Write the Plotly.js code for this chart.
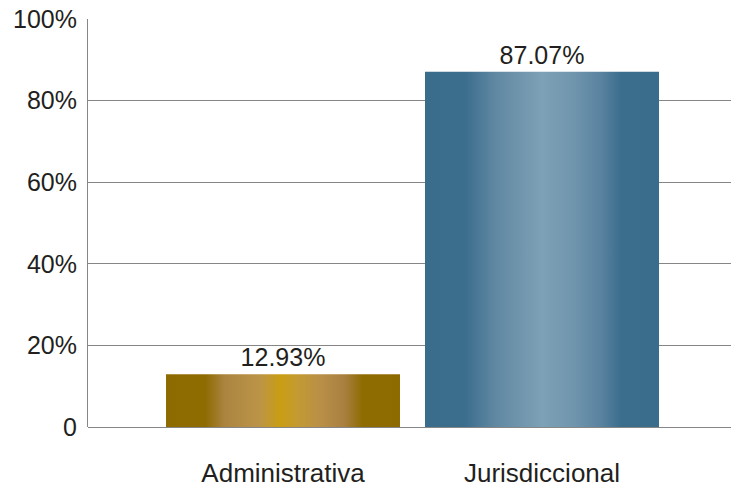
<!DOCTYPE html>
<html>
<head>
<meta charset="utf-8">
<script src="https://cdn.plot.ly/plotly-3.0.1.min.js"></script>
<style>
  html, body { margin: 0; padding: 0; background: #fff; }
  #chart { width: 731px; height: 489px; }
</style>
</head>
<body>
<div id="chart"></div>
<script>
// Data
const categories = ["Administrativa", "Jurisdiccional"];
const shares = [12.93, 87.07];
const tickValues = [0, 20, 40, 60, 80, 100];
const tickLabels = ["0", "20%", "40%", "60%", "80%", "100%"];

// Gradient styles per bar (style only)
const gradients = [
  [[0, "#8E6B00"], [0.17, "#8F6C02"], [0.25, "#AB8440"], [0.4, "#BC9448"], [0.49, "#C99E12"], [0.56, "#C49A32"], [0.66, "#B98F48"], [0.76, "#A98040"], [0.84, "#8F6C02"], [1, "#8E6B00"]],
  [[0, "#3A6C8C"], [0.17, "#3B6D8D"], [0.3, "#6088A2"], [0.5, "#7DA1B6"], [0.64, "#6F95AD"], [0.75, "#5A83A0"], [0.84, "#3B6D8D"], [1, "#3A6C8C"]]
];

const textColor = "#231F20";
const gridColor = "#868686";
const fontFamily = "Liberation Sans, Arial, sans-serif";

const trace = {
  type: "bar",
  x: categories,
  y: shares,
  width: 0.9035,
  marker: { color: ["#A07D20", "#5A84A0"], line: { width: 0 } },
  texttemplate: "%{y:.2f}%",
  textposition: "outside",
  textfont: { family: fontFamily, size: 25, color: textColor },
  cliponaxis: false,
  hoverinfo: "none"
};

const layout = {
  width: 731,
  height: 489,
  margin: { l: 88, r: 0, t: 19, b: 62, pad: 0 },
  paper_bgcolor: "#ffffff",
  plot_bgcolor: "#ffffff",
  showlegend: false,
  font: { family: fontFamily, color: textColor },
  xaxis: {
    type: "category",
    range: [-0.7529, 1.7297],
    showgrid: false,
    zeroline: false,
    showline: false,
    ticks: "",
    tickfont: { family: fontFamily, size: 26, color: textColor },
    ticklabelstandoff: 28
  },
  yaxis: {
    range: [0, 100],
    tickvals: tickValues,
    ticktext: tickLabels,
    showgrid: true,
    gridcolor: gridColor,
    gridwidth: 1,
    zeroline: true,
    zerolinecolor: gridColor,
    zerolinewidth: 1,
    showline: true,
    linecolor: gridColor,
    linewidth: 1,
    ticks: "",
    tickfont: { family: fontFamily, size: 25, color: textColor },
    ticklabelstandoff: 5
  }
};

Plotly.newPlot("chart", [trace], layout, { staticPlot: true }).then(function (gd) {
  const svg = gd.querySelector(".main-svg");
  const ns = "http://www.w3.org/2000/svg";
  let defs = svg.querySelector("defs");
  if (!defs) { defs = document.createElementNS(ns, "defs"); svg.insertBefore(defs, svg.firstChild); }
  gradients.forEach(function (stops, i) {
    const lg = document.createElementNS(ns, "linearGradient");
    lg.setAttribute("id", "barGrad" + i);
    lg.setAttribute("x1", "0"); lg.setAttribute("y1", "0");
    lg.setAttribute("x2", "1"); lg.setAttribute("y2", "0");
    stops.forEach(function (s) {
      const st = document.createElementNS(ns, "stop");
      st.setAttribute("offset", s[0]);
      st.setAttribute("stop-color", s[1]);
      lg.appendChild(st);
    });
    defs.appendChild(lg);
  });
  const paths = gd.querySelectorAll(".trace.bars .point path");
  paths.forEach(function (p, i) {
    p.style.fill = "url(#barGrad" + i + ")";
  });
});
</script>
</body>
</html>
